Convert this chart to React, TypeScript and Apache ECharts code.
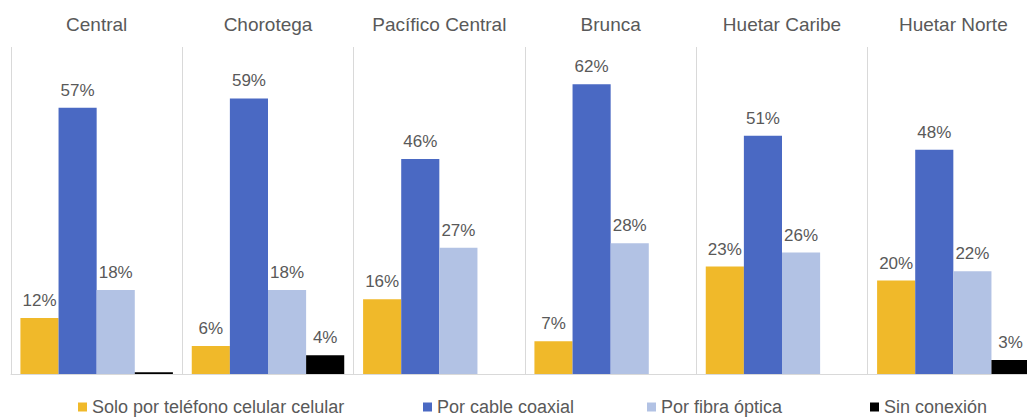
import React, { useEffect, useRef } from "react";
import * as echarts from "echarts";

const regions = ["Central", "Chorotega", "Pacífico Central", "Brunca", "Huetar Caribe", "Huetar Norte"];
const seriesNames = ["Solo por teléfono celular celular", "Por cable coaxial", "Por fibra óptica", "Sin conexión"];
const soloCelular = [12, 6, 16, 7, 23, 20];
const cableCoaxial = [57, 59, 46, 62, 51, 48];
const fibraOptica = [18, 18, 27, 28, 26, 22];
const sinConexion = [0.4, 4, 0, 0, 0, 3];
const colors = ["#F0B92A", "#4A69C3", "#B2C2E4", "#000000"];
const legendLefts = [78, 423, 647, 870];

export default function App() {
  const ref = useRef<HTMLDivElement>(null);
  useEffect(() => {
    if (!ref.current) return;
    const chart = echarts.init(ref.current, null, { renderer: "svg" });
    const values = [soloCelular, cableCoaxial, fibraOptica, sinConexion];
    const font = "Liberation Sans, Arial, sans-serif";
    chart.setOption({
      animation: false,
      textStyle: { fontFamily: font },
      grid: { left: 11, top: 47, width: 1028, bottom: 46, containLabel: false },
      legend: seriesNames.map((n, i) => ({
        data: [n],
        left: legendLefts[i],
        top: 398,
        padding: 0,
        itemWidth: 9,
        itemHeight: 9,
        icon: "rect",
        selectedMode: false,
        textStyle: { fontSize: 18, color: "#595959", fontFamily: font },
      })),
      xAxis: [
        {
          type: "category",
          data: regions,
          position: "bottom",
          axisLine: { show: true, lineStyle: { color: "#d9d9d9", width: 1 } },
          axisTick: { show: false },
          axisLabel: { show: false },
          splitLine: { show: true, interval: 0, lineStyle: { color: "#d9d9d9", width: 1 } },
        },
        {
          type: "category",
          data: regions,
          position: "top",
          axisLine: { show: false },
          axisTick: { show: false },
          axisLabel: { show: true, interval: 0, margin: 13, fontSize: 19, color: "#595959", fontFamily: font },
          splitLine: { show: false },
        },
      ],
      yAxis: { type: "value", min: 0, max: 70, show: false, splitLine: { show: false } },
      series: seriesNames.map((n, i) => ({
        name: n,
        type: "bar",
        data: values[i],
        barGap: "0%",
        barCategoryGap: "11%",
        itemStyle: { color: colors[i] },
        label: {
          show: true,
          position: "top",
          distance: 9,
          fontSize: 17,
          color: "#595959",
          fontFamily: font,
          formatter: (p: any) => (p.value >= 1 ? p.value + "%" : ""),
        },
      })),
    });
    return () => chart.dispose();
  }, []);
  return (
    <div style={{ position: "absolute", left: 0, top: 0, width: 1027, height: 420, overflow: "hidden" }}>
      <div ref={ref} style={{ width: 1050, height: 420 }} />
    </div>
  );
}
